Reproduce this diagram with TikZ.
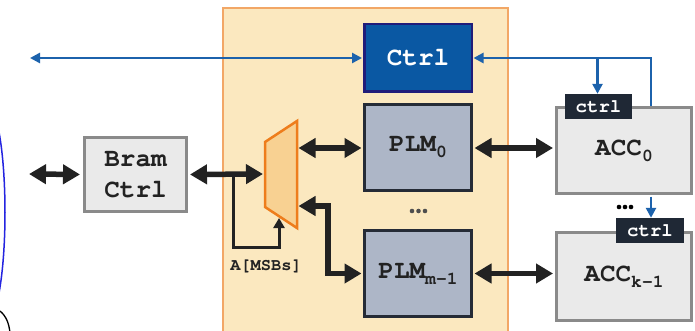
\documentclass[tikz,border=0pt]{standalone}
\usepackage{fontspec}
\setmonofont{TeX Gyre Cursor}
\usetikzlibrary{arrows.meta}
\definecolor{orfill}{HTML}{FBE8BF}
\definecolor{orline}{HTML}{F2A766}
\definecolor{muxfill}{HTML}{F8D192}
\definecolor{muxline}{HTML}{EE7D1C}
\definecolor{ctrlfill}{HTML}{0A58A3}
\definecolor{ctrlline}{HTML}{201C7A}
\definecolor{plmfill}{HTML}{ADB6C7}
\definecolor{plmline}{HTML}{252B36}
\definecolor{accfill}{HTML}{EAEAEA}
\definecolor{accline}{HTML}{8A8A8A}
\definecolor{tagfill}{HTML}{1F2835}
\definecolor{sig}{HTML}{1C62AC}
\definecolor{ink}{HTML}{222222}
\definecolor{edgeblue}{HTML}{2424E0}
\newcommand\mysub[1]{\raisebox{-6pt}{\fontsize{18}{20}\selectfont #1}}
\begin{document}
\begin{tikzpicture}[x=1pt,y=-1pt,
  bigfont/.style={font=\fontsize{26}{31}\selectfont\ttfamily\bfseries},
  plmbox/.style={draw=plmline, fill=plmfill, line width=3pt, bigfont, text=ink, inner sep=0pt},
  accbox/.style={draw=accline, fill=accfill, line width=3pt, bigfont, text=ink, inner sep=0pt, align=center},
  ctrlbox/.style={draw=ctrlline, fill=ctrlfill, line width=2.5pt, bigfont, text=white, inner sep=0pt},
  tagbox/.style={fill=tagfill, text=white, inner sep=0pt, font=\fontsize{19}{22}\selectfont\ttfamily\bfseries},
  bigarrow/.style={draw=ink, line width=5.5pt, {Triangle[length=17pt,width=19pt]}-{Triangle[length=17pt,width=19pt]}},
  selarrow/.style={draw=ink, line width=3pt, -{Triangle[length=10pt,width=11pt]}},
  sigline/.style={draw=sig, line width=2.5pt},
  sigarrow/.style={sigline, -{Triangle[length=10pt,width=10pt]}}
]
\useasboundingbox (0,0) rectangle (695,331);
\clip (0,0) rectangle (695,331);

% accelerator region
\filldraw[fill=orfill, draw=orline, line width=2pt] (223,8.5) rectangle (507.5,345);

% cropped fragments at left edge
\draw[edgeblue, line width=1.5pt] (-1,132) .. controls (7,175) and (7,250) .. (-1,293);
\draw[black, line width=1.3pt] (0,311) .. controls (6,316) and (9,323) .. (10,333);

% boxes
\node[ctrlbox, minimum width=107.5pt, minimum height=67.5pt] (ctrl) at (418,58) {Ctrl};
\node[plmbox, minimum width=107pt, minimum height=86pt] (plm0) at (418,147.5) {PLM\mysub{0}};
\node[plmbox, minimum width=107pt, minimum height=86pt] (plmm) at (418,273.5) {PLM\mysub{m-1}};
\node[accbox, minimum width=135pt, minimum height=86pt] (acc0) at (624,150.5) {ACC\mysub{0}};
\node[accbox, minimum width=135pt, minimum height=88pt] (acck) at (624,276.5) {ACC\mysub{k-1}};
\node[accbox, minimum width=102pt, minimum height=73pt] (bram) at (135.5,174.5) {Bram\\Ctrl};
\node[tagbox, minimum width=67pt, minimum height=25pt] (tag0) at (598.5,106.5) {ctrl};
\node[tagbox, minimum width=68pt, minimum height=25pt] (tagk) at (650,230.5) {ctrl};

% multiplexer
\filldraw[fill=muxfill, draw=muxline, line width=2.5pt, line join=miter]
  (265,142) -- (297,121) -- (297,228) -- (265,207) -- cycle;
\coordinate (muxin) at (263,174);
\coordinate (muxo1) at (298.5,148);
\coordinate (muxo2) at (298.5,206);
\coordinate (muxsel) at (279,218);
\coordinate (leftend) at (29,174);
\coordinate (tap) at (233,174);
\coordinate (selc) at (279,247);
\coordinate (bend) at (328,206);

% ellipses
\foreach \x in {412,418.5,425} \fill[color=ink!80] (\x,211) circle (2.3pt);
\foreach \x in {619,625,631} \fill[color=black] (\x,207) circle (2.3pt);

% data connectors
\draw[bigarrow, shorten >=3pt] (leftend) -- (bram.west);
\draw[bigarrow, shorten <=2pt] (bram.east) -- (muxin);
\draw[selarrow, line join=miter] (tap) |- (selc) -- (muxsel);
\node[font=\fontsize{17}{20}\selectfont\ttfamily\bfseries, text=ink, inner sep=0pt] (msb) at (266,266) {A[MSBs]};
\draw[bigarrow, shorten >=1.5pt] (muxo1) -- (muxo1 -| plm0.west);
\draw[bigarrow, shorten >=1.5pt, line join=miter] (muxo2) -- (bend) |- (plmm.west);
\draw[bigarrow, shorten <=1.5pt, shorten >=2pt] (plm0.east |- muxo1) -- (acc0.west |- muxo1);
\draw[bigarrow, shorten <=1.5pt, shorten >=2pt] (plmm.east) -- (plmm.east -| acc0.west);

% control connectors
\coordinate (farl) at (30,58);
\coordinate (up) at (651,58);
\coordinate (br) at (597.5,58);
\draw[sigline, {Triangle[length=10pt,width=10pt]}-{Triangle[length=10pt,width=10pt]}, shorten >=1pt] (farl) -- (ctrl.west);
\draw[sigarrow, shorten >=0.5pt] (acc0.north -| up) -- (up) -- (ctrl.east);
\draw[sigarrow] (br) -- (br |- tag0.north);
\draw[sigarrow, shorten <=1.5pt] (acc0.south -| up) -- (tagk.north -| up);
\end{tikzpicture}
\end{document}
